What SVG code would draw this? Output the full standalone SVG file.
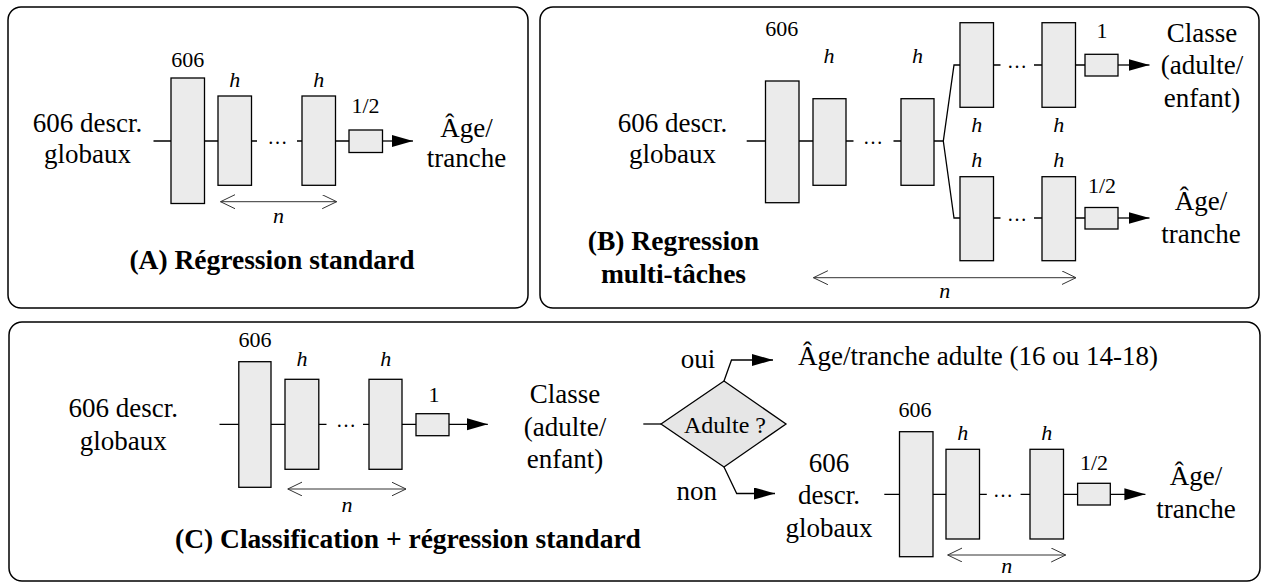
<svg xmlns="http://www.w3.org/2000/svg" width="1265" height="584" viewBox="0 0 1265 584">
<defs>
<style>
.frame{fill:#fff;stroke:#000;stroke-width:1.5}
.layer{fill:#ebebeb;stroke:#000;stroke-width:1.3}
.dia{fill:#e6e6e6;stroke:#000;stroke-width:1.3}
.c{fill:none;stroke:#000;stroke-width:1.3}
.dim{fill:none;stroke:#333;stroke-width:1}
text{font-family:"Liberation Serif","Times New Roman",serif;fill:#000;text-anchor:middle}
.t{font-size:27px}
.s{font-size:22px}
.i{font-style:italic;font-size:22px}
.b{font-weight:bold;font-size:27.5px}
.d{font-size:20px}
.st{text-anchor:start}
</style>
<marker id="ah" markerUnits="userSpaceOnUse" markerWidth="22" markerHeight="14" refX="21" refY="6" orient="auto">
<path d="M0,0 L21,6 L0,12 z" fill="#000"/>
</marker>
<marker id="ch" markerUnits="userSpaceOnUse" markerWidth="16" markerHeight="16" refX="14.5" refY="7" orient="auto-start-reverse">
<path d="M0,0 L14.5,7 L0,14" fill="none" stroke="#333" stroke-width="1"/>
</marker>
</defs>

<g id="frames">
<rect class="frame" x="8" y="7" width="520" height="301" rx="13"/>
<rect class="frame" x="540" y="7" width="719" height="301" rx="13"/>
<rect class="frame" x="9" y="322" width="1251" height="259" rx="13"/>
</g>

<g id="connectors">
<path class="c" d="M153.5,141H171M204.5,141H218M251.5,141H257M297,141H302M335.5,141H349"/>
<path class="c" d="M382.5,141H413" marker-end="url(#ah)"/>
<path class="dim" d="M220.5,201.7H336.7" marker-start="url(#ch)" marker-end="url(#ch)"/>
<path class="c" d="M746.7,141H765.5M799,141H813M846,141H853.5M893.5,141H901M934,141H943.3L954,65H960M943.3,141L954,218H960"/>
<path class="c" d="M993.5,65H1000.5M1034,65H1042M1075.5,65H1085M993.5,218H1000.5M1034,218H1042M1075.5,218H1085"/>
<path class="c" d="M1118,65H1149.5" marker-end="url(#ah)"/>
<path class="c" d="M1118,218H1149.5" marker-end="url(#ah)"/>
<path class="dim" d="M813.4,277.7H1076" marker-start="url(#ch)" marker-end="url(#ch)"/>
<path class="c" d="M219.5,424.3H238.8M271,424.3H285M318.8,424.3H326.5M363,424.3H369M402,424.3H416"/>
<path class="c" d="M449,424.3H487.8" marker-end="url(#ah)"/>
<path class="dim" d="M287.8,489H406" marker-start="url(#ch)" marker-end="url(#ch)"/>
<path class="c" d="M643.3,424H661"/>
<path class="c" d="M724,381L731.5,360H773" marker-end="url(#ah)"/>
<path class="c" d="M724,467L736.7,493.5H775" marker-end="url(#ah)"/>
<path class="c" d="M884.3,494.3H899.5M933,494.3H946M979.5,494.3H986.8M1020.6,494.3H1030M1063.5,494.3H1077.6"/>
<path class="c" d="M1110.3,494.3H1145.4" marker-end="url(#ah)"/>
<path class="dim" d="M947.7,555H1065.7" marker-start="url(#ch)" marker-end="url(#ch)"/>
</g>

<g id="panelA">
<g id="A_input"><text class="t" x="87.5" y="131.7">606 descr.</text><text class="t" x="87.5" y="163.3">globaux</text></g>
<g id="A_L0"><rect class="layer" x="171" y="78" width="33.5" height="125.5"/><text class="s" x="187.7" y="66.7">606</text></g>
<g id="A_H1"><rect class="layer" x="218" y="96" width="33.5" height="89.3"/><text class="i" x="234.7" y="87.3">h</text></g>
<g id="A_dots"><text class="d" x="277.5" y="143.5">…</text></g>
<g id="A_H2"><rect class="layer" x="302" y="96" width="33.5" height="89.3"/><text class="i" x="318.7" y="87.3">h</text></g>
<g id="A_out"><rect class="layer" x="349" y="130" width="33.5" height="22.5"/><text class="s" x="365.5" y="113.3">1/2</text></g>
<g id="A_result"><text class="t" x="466.5" y="136.7">Âge/</text><text class="t" x="466.5" y="166.7">tranche</text></g>
<g id="A_n"><text class="i" x="278.6" y="222.7">n</text></g>
<g id="A_title"><text class="b" x="272" y="268.5">(A) Régression standard</text></g>
</g>

<g id="panelB">
<g id="B_input"><text class="t" x="672.5" y="131.7">606 descr.</text><text class="t" x="672.5" y="163.3">globaux</text></g>
<g id="B_L0"><rect class="layer" x="765.5" y="81" width="33.5" height="121.7"/><text class="s" x="781.7" y="36">606</text></g>
<g id="B_H1"><rect class="layer" x="813" y="98.7" width="33" height="86.6"/><text class="i" x="829" y="63.3">h</text></g>
<g id="B_dots"><text class="d" x="873" y="143.5">…</text></g>
<g id="B_H2"><rect class="layer" x="901" y="98.7" width="33" height="86.6"/><text class="i" x="917.5" y="63.3">h</text></g>
<g id="B_U1"><rect class="layer" x="960" y="22.7" width="33.5" height="84.6"/><text class="i" x="976.7" y="131.7">h</text></g>
<g id="B_Udots"><text class="d" x="1017" y="67.5">…</text></g>
<g id="B_U2"><rect class="layer" x="1042" y="22.7" width="33.5" height="84.6"/><text class="i" x="1058.7" y="131.7">h</text></g>
<g id="B_Uout"><rect class="layer" x="1085" y="54.3" width="33" height="21.7"/><text class="s" x="1102" y="37.7">1</text></g>
<g id="B_Uresult"><text class="t" x="1202" y="41.5">Classe</text><text class="t" x="1202" y="74">(adulte/</text><text class="t" x="1202" y="106.5">enfant)</text></g>
<g id="B_L1"><rect class="layer" x="960" y="176.7" width="33.5" height="84"/><text class="i" x="976.7" y="166.7">h</text></g>
<g id="B_Ldots"><text class="d" x="1017" y="220.5">…</text></g>
<g id="B_L2"><rect class="layer" x="1042" y="176.7" width="33.5" height="84"/><text class="i" x="1058.7" y="166.7">h</text></g>
<g id="B_Lout"><rect class="layer" x="1085" y="207.5" width="33" height="21.5"/><text class="s" x="1102" y="193.3">1/2</text></g>
<g id="B_Lresult"><text class="t" x="1201" y="210">Âge/</text><text class="t" x="1201" y="243.3">tranche</text></g>
<g id="B_n"><text class="i" x="944.7" y="298.3">n</text></g>
<g id="B_title"><text class="b" x="673.5" y="250">(B) Regression</text><text class="b" x="673.5" y="283">multi-tâches</text></g>
</g>

<g id="panelC">
<g id="C_input"><text class="t" x="123.3" y="417.3">606 descr.</text><text class="t" x="123.3" y="450">globaux</text></g>
<g id="C_L0"><rect class="layer" x="238.8" y="361.7" width="32.2" height="125.6"/><text class="s" x="255" y="346.7">606</text></g>
<g id="C_H1"><rect class="layer" x="285" y="379.3" width="33.8" height="90"/><text class="i" x="302" y="366">h</text></g>
<g id="C_dots"><text class="d" x="346" y="426.8">…</text></g>
<g id="C_H2"><rect class="layer" x="369" y="379.3" width="33" height="90"/><text class="i" x="385.7" y="366">h</text></g>
<g id="C_out"><rect class="layer" x="416" y="413.7" width="33" height="22"/><text class="s" x="434" y="402.3">1</text></g>
<g id="C_class"><text class="t" x="565" y="403.3">Classe</text><text class="t" x="565" y="435.5">(adulte/</text><text class="t" x="565" y="468">enfant)</text></g>
<g id="C_n"><text class="i" x="347" y="511.7">n</text></g>
<g id="C_decision"><polygon class="dia" points="661,424 724,381 786,424 724,467"/><text x="725" y="433" style="font-size:24px">Adulte ?</text></g>
<g id="C_oui"><text class="t" x="698" y="368.3">oui</text></g>
<g id="C_adult"><text class="t st" x="798" y="365">Âge/tranche adulte (16 ou 14-18)</text></g>
<g id="C_non"><text class="t" x="696.7" y="500">non</text></g>
<g id="C_input2"><text class="t" x="829" y="471.7">606</text><text class="t" x="829" y="504">descr.</text><text class="t" x="829" y="536.7">globaux</text></g>
<g id="C_R0"><rect class="layer" x="899.5" y="431.7" width="33.5" height="125"/><text class="s" x="915" y="416.7">606</text></g>
<g id="C_RH1"><rect class="layer" x="946" y="449.3" width="33.5" height="89.7"/><text class="i" x="962.7" y="440">h</text></g>
<g id="C_Rdots"><text class="d" x="1003" y="496.8">…</text></g>
<g id="C_RH2"><rect class="layer" x="1030" y="449.3" width="33.5" height="89.7"/><text class="i" x="1046.7" y="440">h</text></g>
<g id="C_Rout"><rect class="layer" x="1077.6" y="483.3" width="32.7" height="21.7"/><text class="s" x="1094" y="470">1/2</text></g>
<g id="C_Rresult"><text class="t" x="1196" y="485">Âge/</text><text class="t" x="1196" y="518.3">tranche</text></g>
<g id="C_Rn"><text class="i" x="1006.7" y="573.3">n</text></g>
<g id="C_title"><text class="b" x="408" y="548">(C) Classification + régression standard</text></g>
</g>
</svg>
